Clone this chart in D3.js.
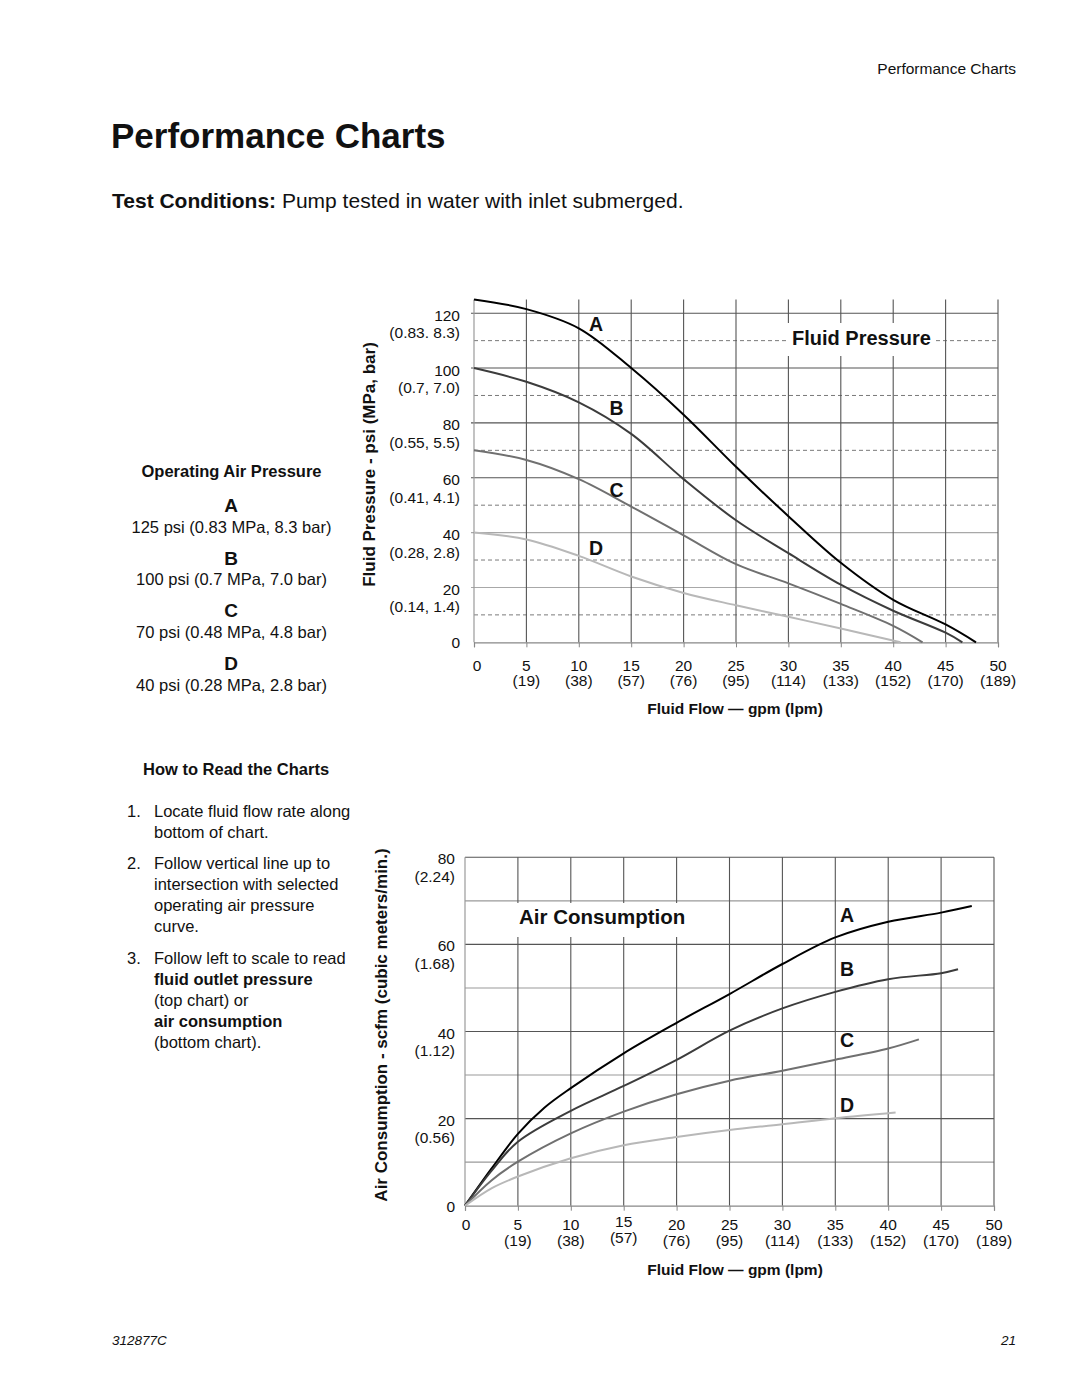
<!DOCTYPE html>
<html><head><meta charset="utf-8">
<script src="https://cdn.jsdelivr.net/npm/d3@7"></script>
<style>
html,body{margin:0;padding:0;background:#fff;}
svg{display:block;font-family:"Liberation Sans",Arial,Helvetica,sans-serif;}
</style></head>
<body>
<svg id="c" width="1080" height="1397"></svg>
<script>
// ---------- data ----------
const flowTicks = [0,5,10,15,20,25,30,35,40,45,50];
const lpmLabels = ["","(19)","(38)","(57)","(76)","(95)","(114)","(133)","(152)","(170)","(189)"];
const pressureTicks = [0,20,40,60,80,100,120];
const pressureMetric = ["","(0.14, 1.4)","(0.28, 2.8)","(0.41, 4.1)","(0.55, 5.5)","(0.7, 7.0)","(0.83. 8.3)"];
const pressureDashed = [10,30,50,70,90,110];
const airTicks = [0,20,40,60,80];
const airMetric = ["","(0.56)","(1.12)","(1.68)","(2.24)"];
const airGrid = [10,20,30,40,50,60,70,80];
const seriesNames = ["A","B","C","D"];
const seriesColors = ["#000000","#3c3c3c","#707070","#b8b8b8"];

const pressureA = [[0,125],[5,121.5],[10,114.5],[15,100],[20,83],[25,64],[30,46],[35,29],[40,15.5],[45,6.5],[47.9,0]];
const pressureB = [[0,100],[5,95],[10,87.5],[15,76],[20,59.5],[25,44.5],[30,32.5],[35,21],[40,11.5],[45,3.5],[46.6,0]];
const pressureC = [[0,70],[5,66.5],[10,59.5],[15,49.5],[20,39],[25,28.5],[30,21.5],[35,14],[40,6],[42.8,0]];
const pressureD = [[0,40],[5,37.5],[10,31.5],[15,24],[20,18],[25,13.5],[30,9.3],[35,5],[40.7,0]];

const airA = [[0,0],[2.5,8.5],[5,16.5],[7.5,22.5],[10,27],[15,35],[20,42],[25,48.6],[30,55.5],[35,61.6],[40,65.2],[45,67.3],[47.9,68.8]];
const airB = [[0,0],[2.5,8],[5,14.7],[10,21.8],[15,27.5],[20,33.5],[25,40.2],[30,45.3],[35,49.1],[40,52],[45,53.4],[46.6,54.3]];
const airC = [[0,0],[2.5,5.8],[5,10.1],[10,16.6],[15,21.6],[20,25.6],[25,28.7],[30,31],[35,33.5],[40,36.1],[42.9,38.2]];
const airD = [[0,0],[2.5,4],[5,6.7],[10,10.9],[15,13.9],[20,15.8],[25,17.4],[30,18.7],[35,20.1],[40.7,21.4]];

// label anchor positions (data units)
const pressureLabelPos = [[11.65,113.5],[13.6,82.9],[13.6,53.1],[11.65,31.8]];
const airLabelPos = [[36.1,65.2],[36.1,52.7],[36.1,36.4],[36.1,21.6]];

const pressureSeries = [pressureA,pressureB,pressureC,pressureD];
const airSeries = [airA,airB,airC,airD];

// ---------- drawing ----------
const svg = d3.select("#c");
svg.append("rect").attr("width",1080).attr("height",1397).attr("fill","#fff");

const txt = (x,y,s,opt={}) => svg.append("text").attr("x",x).attr("y",y)
  .attr("font-size",opt.size||17).attr("font-weight",opt.bold?"bold":"normal")
  .attr("font-style",opt.italic?"italic":"normal")
  .attr("text-anchor",opt.anchor||"start").attr("fill","#111").text(s);

// page header / titles
txt(1016,74,"Performance Charts",{size:15.5,anchor:"end"});
txt(111,148,"Performance Charts",{size:35,bold:true});
const tc = svg.append("text").attr("x",112).attr("y",208).attr("font-size",21).attr("fill","#111");
tc.append("tspan").attr("font-weight","bold").text("Test Conditions:");
tc.append("tspan").text(" Pump tested in water with inlet submerged.");

// left legend column
txt(231.5,477,"Operating Air Pressure",{size:16.5,bold:true,anchor:"middle"});
const legendText = ["125 psi (0.83 MPa, 8.3 bar)","100 psi (0.7 MPa, 7.0 bar)","70 psi (0.48 MPa, 4.8 bar)","40 psi (0.28 MPa, 2.8 bar)"];
seriesNames.forEach((n,i)=>{
  const y0 = 512 + i*52.7;
  txt(231,y0,n,{size:19,bold:true,anchor:"middle"});
  txt(231.5,y0+20.5,legendText[i],{size:16.5,anchor:"middle"});
});

// how to read
txt(143,775,"How to Read the Charts",{size:16.5,bold:true});
const steps = [
  {n:"1.",y:817,lines:[["Locate fluid flow rate along"],["bottom of chart."]]},
  {n:"2.",y:869,lines:[["Follow vertical line up to"],["intersection with selected"],["operating air pressure"],["curve."]]},
  {n:"3.",y:964,lines:[["Follow left to scale to read"],["fluid outlet pressure",true],["(top chart) or"],["air consumption",true],["(bottom chart)."]]}
];
steps.forEach(s=>{
  txt(127,s.y,s.n,{size:16.5});
  s.lines.forEach((l,k)=>txt(154,s.y+k*21,l[0],{size:16.5,bold:!!l[1]}));
});

// footer
txt(112,1345,"312877C",{size:13.5,italic:true});
txt(1016,1345,"21",{size:13.5,italic:true,anchor:"end"});

const smooth = d3.curveCatmullRom.alpha(0.5);

// ---------- top chart: fluid pressure ----------
const x1 = d3.scaleLinear().domain([0,50]).range([474,998]);
const y1 = d3.scaleLinear().domain([0,125]).range([642.3,299.5]);
const g1 = svg.append("g");

g1.selectAll(".dash").data(pressureDashed).enter().append("line")
  .attr("x1",x1(0)).attr("x2",x1(50)).attr("y1",d=>y1(d)).attr("y2",d=>y1(d))
  .attr("stroke","#7a7a7a").attr("stroke-width",1).attr("stroke-dasharray","4,3");
g1.selectAll(".hs").data(pressureTicks.filter(d=>d>0)).enter().append("line")
  .attr("x1",x1(0)-3).attr("x2",x1(50)).attr("y1",d=>y1(d)).attr("y2",d=>y1(d))
  .attr("stroke",d=>(d===20||d===40)?"#a8a8a8":"#555").attr("stroke-width",1.1);
g1.selectAll(".vs").data(flowTicks.filter(d=>d>0)).enter().append("line")
  .attr("x1",d=>x1(d)).attr("x2",d=>x1(d)).attr("y1",y1(0)).attr("y2",y1(125))
  .attr("stroke","#555").attr("stroke-width",1.1);
g1.append("line").attr("x1",x1(0)).attr("x2",x1(0)).attr("y1",y1(0)).attr("y2",y1(125))
  .attr("stroke","#9a9a9a").attr("stroke-width",1.2);
const ax1 = g1.append("g").attr("transform",`translate(0,${y1(0)})`)
  .call(d3.axisBottom(x1).tickValues(flowTicks).tickSize(5).tickFormat(""));
ax1.select(".domain").attr("stroke","#888").attr("stroke-width",1.2);
ax1.selectAll(".tick line").attr("stroke","#888");

g1.append("rect").attr("x",786).attr("y",323).attr("width",150).attr("height",33).attr("fill","#fff");
g1.append("text").attr("x",861.5).attr("y",345).attr("text-anchor","middle").attr("font-size",20)
  .attr("font-weight","bold").attr("fill","#111").text("Fluid Pressure");

const line1 = d3.line().x(d=>x1(d[0])).y(d=>y1(d[1])).curve(smooth);
pressureSeries.forEach((s,i)=>{
  g1.append("path").attr("d",line1(s)).attr("fill","none").attr("stroke",seriesColors[i]).attr("stroke-width",2);
});
seriesNames.forEach((n,i)=>{
  g1.append("text").attr("x",x1(pressureLabelPos[i][0])).attr("y",y1(pressureLabelPos[i][1]))
    .attr("text-anchor","middle").attr("font-size",19.5).attr("font-weight","bold").attr("fill","#111").text(n);
});

pressureTicks.forEach((v,i)=>{
  g1.append("text").attr("x",460).attr("y",y1(v)+(v===0?6:7.5)).attr("text-anchor","end")
    .attr("font-size",15.5).attr("fill","#111").text(v);
  if(pressureMetric[i]) g1.append("text").attr("x",460).attr("y",y1(v)+25).attr("text-anchor","end")
    .attr("font-size",15.5).attr("fill","#111").text(pressureMetric[i]);
});
flowTicks.forEach((v,i)=>{
  g1.append("text").attr("x",v===0?x1(v)+3:x1(v)).attr("y",671).attr("text-anchor","middle")
    .attr("font-size",15.5).attr("fill","#111").text(v);
  if(lpmLabels[i]) g1.append("text").attr("x",x1(v)).attr("y",686).attr("text-anchor","middle")
    .attr("font-size",15.5).attr("fill","#111").text(lpmLabels[i]);
});
g1.append("text").attr("x",735).attr("y",714).attr("text-anchor","middle").attr("font-size",15.5)
  .attr("font-weight","bold").attr("fill","#111").text("Fluid Flow — gpm (lpm)");
g1.append("text").attr("transform",`translate(375,464.5) rotate(-90)`).attr("text-anchor","middle")
  .attr("font-size",17).attr("font-weight","bold").attr("fill","#111").text("Fluid Pressure - psi (MPa, bar)");

// ---------- bottom chart: air consumption ----------
const x2 = d3.scaleLinear().domain([0,50]).range([465,994]);
const y2 = d3.scaleLinear().domain([0,80]).range([1205.7,857.3]);
const g2 = svg.append("g");

g2.selectAll(".h2").data(airGrid).enter().append("line")
  .attr("x1",x2(0)).attr("x2",x2(50)).attr("y1",d=>y2(d)).attr("y2",d=>y2(d))
  .attr("stroke",d=>(d%20===0)?"#555":"#9a9a9a").attr("stroke-width",1.1);
g2.selectAll(".v2").data(flowTicks.filter(d=>d>0)).enter().append("line")
  .attr("x1",d=>x2(d)).attr("x2",d=>x2(d)).attr("y1",y2(0)).attr("y2",y2(80))
  .attr("stroke","#555").attr("stroke-width",1.1);
g2.append("line").attr("x1",x2(0)).attr("x2",x2(0)).attr("y1",y2(0)).attr("y2",y2(80))
  .attr("stroke","#9a9a9a").attr("stroke-width",1.2);
const ax2 = g2.append("g").attr("transform",`translate(0,${y2(0)})`)
  .call(d3.axisBottom(x2).tickValues(flowTicks).tickSize(5).tickFormat(""));
ax2.select(".domain").attr("stroke","#888").attr("stroke-width",1.2);
ax2.selectAll(".tick line").attr("stroke","#888");

g2.append("rect").attr("x",515).attr("y",903).attr("width",180).attr("height",34).attr("fill","#fff");
g2.append("text").attr("x",519).attr("y",923.5).attr("font-size",20.5).attr("font-weight","bold")
  .attr("fill","#111").text("Air Consumption");

const line2 = d3.line().x(d=>x2(d[0])).y(d=>y2(d[1])).curve(smooth);
airSeries.forEach((s,i)=>{
  g2.append("path").attr("d",line2(s)).attr("fill","none").attr("stroke",seriesColors[i]).attr("stroke-width",2);
});
seriesNames.forEach((n,i)=>{
  g2.append("text").attr("x",x2(airLabelPos[i][0])).attr("y",y2(airLabelPos[i][1]))
    .attr("text-anchor","middle").attr("font-size",19.5).attr("font-weight","bold").attr("fill","#111").text(n);
});

airTicks.forEach((v,i)=>{
  g2.append("text").attr("x",455).attr("y",y2(v)+(v===0?6:7)).attr("text-anchor","end")
    .attr("font-size",15.5).attr("fill","#111").text(v);
  if(airMetric[i]) g2.append("text").attr("x",455).attr("y",y2(v)+24.5).attr("text-anchor","end")
    .attr("font-size",15.5).attr("fill","#111").text(airMetric[i]);
});
flowTicks.forEach((v,i)=>{
  const dy = v===15?-3:0;
  g2.append("text").attr("x",v===0?x2(v)+1:x2(v)).attr("y",1230+dy).attr("text-anchor","middle")
    .attr("font-size",15.5).attr("fill","#111").text(v);
  if(lpmLabels[i]) g2.append("text").attr("x",x2(v)).attr("y",1246+dy).attr("text-anchor","middle")
    .attr("font-size",15.5).attr("fill","#111").text(lpmLabels[i]);
});
g2.append("text").attr("x",735).attr("y",1275).attr("text-anchor","middle").attr("font-size",15.5)
  .attr("font-weight","bold").attr("fill","#111").text("Fluid Flow — gpm (lpm)");
g2.append("text").attr("transform",`translate(387,1025) rotate(-90)`).attr("text-anchor","middle")
  .attr("font-size",17).attr("font-weight","bold").attr("fill","#111").text("Air Consumption - scfm (cubic meters/min.)");
</script>
</body></html>
